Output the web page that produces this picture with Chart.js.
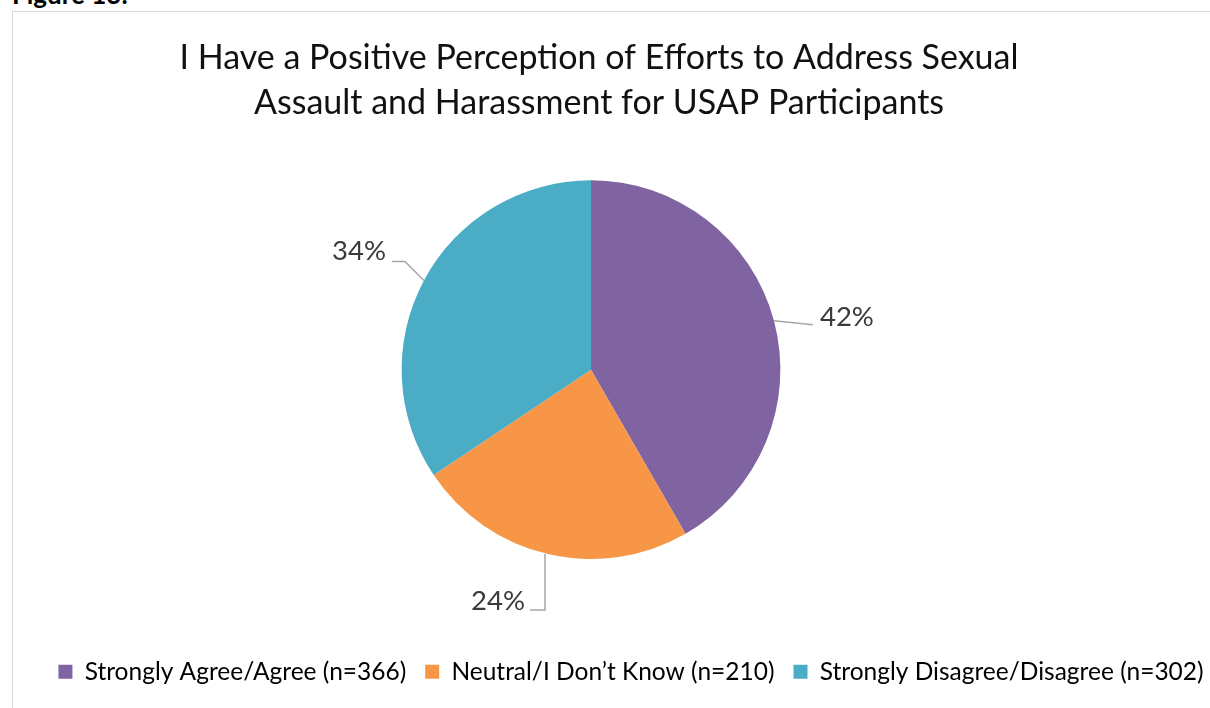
<!DOCTYPE html>
<html>
<head>
<meta charset="utf-8">
<script src="https://cdn.jsdelivr.net/npm/chart.js@4.4.1/dist/chart.umd.min.js"></script>
<style>
  html, body { margin: 0; padding: 0; background: #fff; overflow: hidden; }
  body { width: 1210px; height: 708px; position: relative; font-family: Lato, "Open Sans", sans-serif; }
  #fig { position: absolute; left: 12px; top: -19px; font: bold 26px/26px Lato, sans-serif; color: #000; white-space: nowrap; }
  #frame { position: absolute; left: 12px; top: 11px; width: 1300px; height: 800px; border-top: 1px solid #d9d9d9; border-left: 1px solid #d9d9d9; }
  #wrap { position: absolute; left: 13px; top: 12px; width: 1197px; height: 696px; }
</style>
</head>
<body>
<div id="fig">Figure 13:</div>
<div id="frame"></div>
<div id="wrap"><canvas id="c"></canvas></div>
<script>
// ---- data ----
const titleLines = ["I Have a Positive Perception of Efforts to Address Sexual", "Assault and Harassment for USAP Participants"];
const categories = ["Strongly Agree/Agree (n=366)", "Neutral/I Don\u2019t Know (n=210)", "Strongly Disagree/Disagree (n=302)"];
const counts = [366, 210, 302];
const sliceColors = ["#8064A2", "#F79646", "#4BACC6"];

// ---- leader-line label styling (offsets from slice edge midpoint) ----
const labelStyle = [
  { path: [[0, 0], [39, 4]], text: [46, -4], align: "left" },
  { path: [[-3, 0], [-3, 56], [-18, 56]], text: [-23, 47], align: "right" },
  { path: [[0, 0], [-19, -19], [-32, -19]], text: [-38, -29], align: "right" }
];

const nudge = {
  id: "nudge",
  afterLayout(chart, args, opts) {
    const a = chart.chartArea;
    a.left += opts.area; a.right += opts.area;
    if (chart.legend) { chart.legend.left += opts.legend; chart.legend.right += opts.legend; }
    if (chart.titleBlock) { chart.titleBlock.left += opts.title; chart.titleBlock.right += opts.title; }
  }
};

const leaderLabels = {
  id: "leaderLabels",
  afterDatasetsDraw(chart) {
    const ctx = chart.ctx;
    const meta = chart.getDatasetMeta(0);
    const data = chart.data.datasets[0].data;
    const total = data.reduce((s, v) => s + v, 0);
    ctx.save();
    meta.data.forEach((arc, i) => {
      const p = arc.getProps(["x", "y", "startAngle", "endAngle", "outerRadius"], true);
      const mid = (p.startAngle + p.endAngle) / 2;
      const ex = p.x + Math.cos(mid) * p.outerRadius;
      const ey = p.y + Math.sin(mid) * p.outerRadius;
      const st = labelStyle[i];
      ctx.beginPath();
      st.path.forEach(([dx, dy], k) => {
        if (k === 0) ctx.moveTo(ex + dx, ey + dy); else ctx.lineTo(ex + dx, ey + dy);
      });
      ctx.strokeStyle = "#a6a6a6";
      ctx.lineWidth = 1.5;
      ctx.stroke();
      ctx.fillStyle = "#3a3a3a";
      ctx.font = "27.5px Lato, sans-serif";
      ctx.textAlign = st.align;
      ctx.textBaseline = "middle";
      ctx.fillText(Math.round(data[i] / total * 100) + "%", ex + st.text[0], ey + st.text[1]);
    });
    ctx.restore();
  }
};

new Chart(document.getElementById("c"), {
  type: "pie",
  data: {
    labels: categories,
    datasets: [{ data: counts, backgroundColor: sliceColors, borderWidth: 0 }]
  },
  plugins: [nudge, leaderLabels],
  options: {
    responsive: true,
    maintainAspectRatio: false,
    animation: false,
    layout: { padding: { top: 0, left: 0, right: 0, bottom: 14 } },
    plugins: {
      nudge: { area: -20.5, title: -12.5, legend: 19.5 },
      tooltip: { enabled: false },
      title: {
        display: true,
        text: titleLines,
        color: "#111",
        font: { family: "Lato, sans-serif", size: 34, weight: "normal", lineHeight: 1.32 },
        padding: { top: 23.5, bottom: 55 }
      },
      legend: {
        position: "bottom",
        title: { display: true, text: "", font: { size: 1 }, padding: { top: 80.3, bottom: 0 } },
        labels: {
          color: "#000",
          boxWidth: 14,
          boxHeight: 14,
          padding: 19,
          font: { family: "Lato, sans-serif", size: 24.5 }
        }
      }
    }
  }
});
</script>
</body>
</html>
